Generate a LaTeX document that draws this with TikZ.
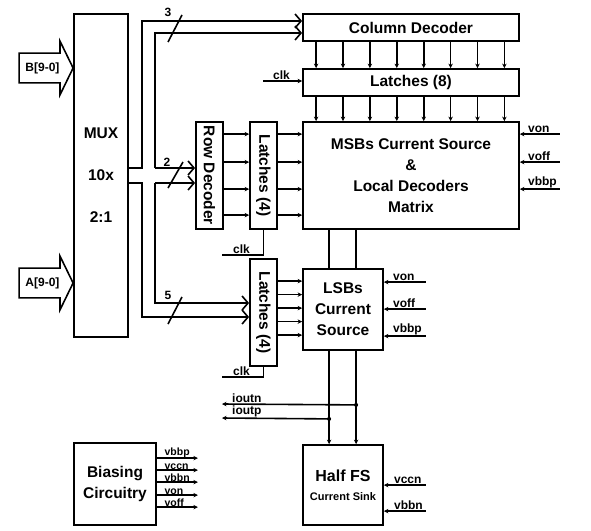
\documentclass[tikz,border=0pt]{standalone}
\usepackage{fontspec}
\setmainfont{Liberation Sans}
\usepackage{graphicx}
\usetikzlibrary{positioning}
\usetikzlibrary{calc}
\usetikzlibrary{arrows.meta,shapes.arrows}

\begin{document}
\begin{tikzpicture}[x=1pt,y=-1pt,
	blk node/.style={draw=black,line width=1.8pt,inner sep=0,align=center,font=\bfseries\fontsize{15.5}{21}\selectfont},
	in arrow/.style={single arrow,draw=black,line width=1.6pt,minimum height=54,single arrow head extend=12,single arrow tip angle=128,inner xsep=2pt,inner ysep=8.5pt,font=\bfseries\fontsize{12}{12}\selectfont,anchor=tip},
	wire/.style={line width=1.6pt},
	sig/.style={line width=1.6pt,-{Stealth[length=4.5pt,width=4.5pt]}},
	bus/.style={line width=1.6pt,-{Straight Barb[length=6pt,width=14pt,line width=1.6pt]}},
	lbl/.style={inner sep=1pt,font=\bfseries\fontsize{12}{12}\selectfont},
	small lbl/.style={inner sep=0.5pt,font=\bfseries\fontsize{10.5}{10.5}\selectfont}]
	\useasboundingbox (0,0) rectangle (591,530);
	% blocks
	\node[blk node,minimum width=54,minimum height=323,font=\bfseries\fontsize{15.5}{42}\selectfont] (mux) at (101,175.5){MUX\\10x\\2:1};
	\node[blk node,minimum width=216,minimum height=27] (coldec) at (411,27.5){Column Decoder};
	\node[blk node,minimum width=216,minimum height=27] (lat8) at (411,82.5){Latches (8)};
	\node[blk node,minimum width=216,minimum height=107] (msb) at (411,175.5){MSBs Current Source\\\&\\Local Decoders\\Matrix};
	\node[blk node,minimum width=27,minimum height=107] (rowdec) at (209.5,175.5){\rotatebox{-90}{Row Decoder}};
	\node[blk node,minimum width=27,minimum height=107] (lat4a) at (263.5,175.5){\rotatebox{-90}{Latches (4)}};
	\node[blk node,minimum width=27,minimum height=107] (lat4b) at (263.5,312.5){\rotatebox{-90}{Latches (4)}};
	\node[blk node,minimum width=80,minimum height=81] (lsb) at (343,309.5){LSBs\\Current\\Source};
	\node[blk node,minimum width=80,minimum height=80] (halffs) at (343,485){\fontsize{16}{18}\selectfont Half FS\\[-2pt]\fontsize{11}{13}\selectfont Current Sink};
	\node[blk node,minimum width=82,minimum height=82] (bias) at (115,484){Biasing\\Circuitry};
	\node[in arrow] (bin) at (74,68){B[9-0]};
	\node[in arrow] (ain) at (74,283){A[9-0]};
	
	% data buses
	\coordinate (bo) at (142,0);
	\coordinate (bi) at (155,0);
	\draw[bus] ([yshift=7.5]mux.east) -| ([yshift=6.5]coldec.west -| bo) -- ([yshift=6.5]coldec.west);
	\draw[bus] ([yshift=-7.5]mux.east) -| ([yshift=-4.5]lat4b.west -| bo) -- ([yshift=-4.5]lat4b.west);
	\draw[bus] ([yshift=7.5]rowdec.west -| bi) |- ([yshift=-5.5]coldec.west);
	\draw[bus] ([yshift=7.5]rowdec.west -| bi) -- ([yshift=7.5]rowdec.west);
	\draw[bus] ([yshift=-7.5]rowdec.west -| bi) |- ([yshift=9.5]lat4b.west);
	\draw[bus] ([yshift=-7.5]rowdec.west -| bi) -- ([yshift=-7.5]rowdec.west);
	\draw[wire] (168,42) -- (182,15);
	\draw[wire] (168,188) -- (183,162);
	\draw[wire] (168,324) -- (182,297);
	\node[lbl] (w3) at (168,12){3};
	\node[lbl] (w2) at (167,162){2};
	\node[lbl] (w5) at (168,295){5};
	
	\foreach \k [evaluate=\k as \dx using 14+26.9*\k] in {0,...,7}
	{
		\draw[sig] ([xshift=\dx]coldec.south west) -- ([xshift=\dx]lat8.north west);
		\draw[sig] ([xshift=\dx]lat8.south west) -- ([xshift=\dx]msb.north west);
	}
	\foreach \dy in {13,41,68,94}
	{
		\draw[sig] ([yshift=-\dy]rowdec.north east) -- ([yshift=-\dy]lat4a.north west);
		\draw[sig] ([yshift=-\dy]lat4a.north east) -- ([yshift=-\dy]msb.north west);
	}
	\foreach \dy in {23,36.5,50,63.5,77}
		\draw[sig] ([yshift=-\dy]lat4b.north east) -- ([yshift=-\dy]lat4b.north east -| lsb.west);
	
	% bias inputs
	\foreach \dy/\v in {13/von,41/voff,68/vbbp}
	{
		\coordinate (msb\v) at ([xshift=40,yshift=-\dy]msb.north east);
		\draw[sig] (msb\v) -- (msb\v -| msb.east);
		\node[lbl,anchor=south west] (lmsb\v) at ([xshift=7,yshift=-\dy]msb.north east){\v};
	}
	\foreach \dy/\v in {14/von,41/voff,68/vbbp}
	{
		\coordinate (lsb\v) at ([xshift=42,yshift=-\dy]lsb.north east);
		\draw[sig] (lsb\v) -- (lsb\v -| lsb.east);
		\node[lbl,anchor=south west] (llsb\v) at ([xshift=8,yshift=-\dy]lsb.north east){\v};
	}
	\foreach \dy/\v in {41/vccn,67/vbbn}
	{
		\coordinate (hfs\v) at ([xshift=42,yshift=-\dy]halffs.north east);
		\draw[sig] (hfs\v) -- (hfs\v -| halffs.east);
		\node[lbl,anchor=south west] (lhfs\v) at ([xshift=9,yshift=-\dy]halffs.north east){\v};
	}
	\foreach \dy/\v in {16/vbbp,28/vccn,40/vbbn,53/von,65/voff}
	{
		\coordinate (bias\v) at ([xshift=41,yshift=-\dy]bias.north east);
		\draw[sig] ([yshift=-\dy]bias.north east) -- (bias\v);
		\node[small lbl,anchor=south west] (lbias\v) at ([xshift=7,yshift=-\dy]bias.north east){\v};
	}
	
	% current outputs
	\foreach \dx in {27,54}
	{
		\draw[wire] ([xshift=\dx]msb.south west) -- ([xshift=\dx]lsb.north west);
		\draw[sig] ([xshift=\dx]lsb.south west) -- ([xshift=\dx]halffs.north west);
	}
	\coordinate (jn) at ([xshift=54,yshift=-54]lsb.south west);
	\coordinate (jp) at ([xshift=27,yshift=-68]lsb.south west);
	\coordinate (ioutnend) at (222,404);
	\coordinate (ioutpend) at (222,418);
	\draw[sig] (jn) -- (ioutnend);
	\draw[sig] (jp) -- (ioutpend);
	\fill (jn) circle (2);
	\fill (jp) circle (2);
	\node[lbl,anchor=south west] (lioutn) at (231,404){ioutn};
	\node[lbl,anchor=south west] (lioutp) at (231,418){ioutp};
	
	% clocks
	\coordinate (clk8) at (263,81);
	\coordinate (clka) at (222,255);
	\coordinate (clkb) at (222,377);
	\draw[sig] (clk8) -- (clk8 -| lat8.west);
	\draw[wire] (clka) -| (lat4a.south);
	\draw[wire] (clkb) -| (lat4b.south);
	\node[lbl,anchor=south west] (lclk8) at (272,81){clk};
	\node[lbl,anchor=south west] (lclka) at (232,255){clk};
	\node[lbl,anchor=south west] (lclkb) at (232,377){clk};
\end{tikzpicture}
\end{document}
